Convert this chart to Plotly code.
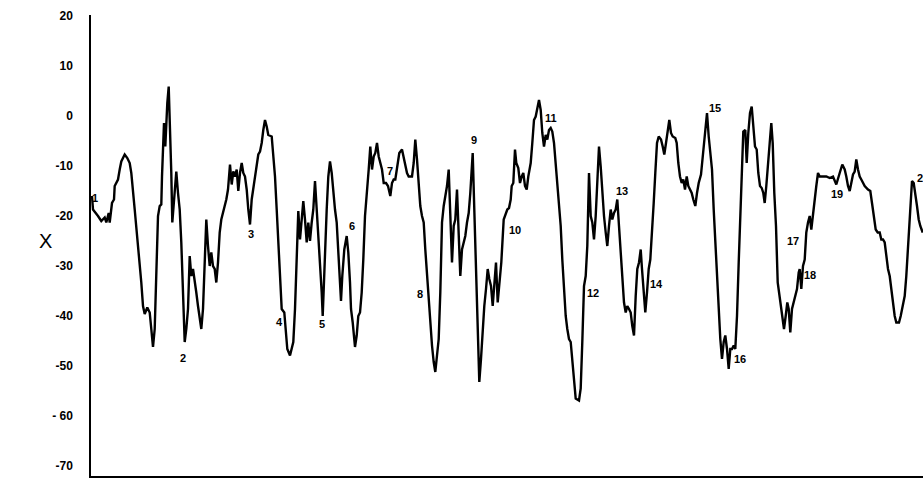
import plotly.graph_objects as go

# time (arbitrary units) and X values
t = [1, 2, 7, 10.3, 13.7, 15.3, 17.7, 18.7, 21, 23, 23.7, 27, 28.7, 30.3, 33.7, 36.3, 38.7, 40.3, 43.7, 47,
     50.3, 52, 53.7, 56.3, 58.7, 60.3, 62, 63.7, 65.3, 67, 68.7, 70.3, 71, 72, 73, 74.3, 75.3, 76.3, 77.7, 79,
     80.3, 81.3, 83, 84.3, 85.3, 87, 88.7, 90.3, 92, 93.7, 95.3, 97, 98.7, 100.3, 102, 103.7, 105.3, 107, 108.7, 110.3,
     112, 113.7, 115.3, 117, 118.7, 120.3, 122, 123.7, 125.3, 127, 128.7, 130.3, 132, 133.7, 135.3, 137,
     139, 140.7, 142.3, 144, 145.7, 147.3, 149, 150.7, 152.3, 154, 155.7, 157.3, 159, 160.7, 162.3, 164, 165.7, 167.3,
     169, 170.7, 172.3, 174, 175.7, 177.3, 180.7, 182.3, 184, 185.7, 187.3, 189, 190.7, 193.3, 194.7, 196.3, 199, 200.7,
     202.3, 204, 205.7, 207.3, 209, 210.7, 212.3, 214, 215.7, 217.3, 219, 220.7, 222.3, 224, 225.7, 227.3, 229, 230.7,
     231.7, 233, 234, 235.7, 237.3, 239, 240.7, 242.3, 244, 245.7, 247.3, 249, 250, 251.3, 253.3, 255.7, 257.3, 259,
     260, 261.7, 264, 265.7, 267.3, 269, 270.7, 272.3, 274,
     277.7, 279.3, 281, 282.7, 284.3, 286, 287.7, 289.3, 291, 292.7, 295, 297, 299.3, 301, 302.7, 304.3, 306, 308.3,
     311, 312.7, 314.3, 316, 317.7, 321, 322.7, 324.3, 326, 327.7, 329.3, 331, 332.7, 334.3, 336, 337.7, 339.3, 341,
     342.7, 344.3, 346, 347.7, 349.3, 351, 352.7, 354.3, 356, 357.7, 359.3, 361, 362.7, 364.3, 366, 367.7, 369.3, 371,
     372.7, 374.3, 376, 377.7, 379.3, 381.7, 383.3, 385, 386.7, 388.3, 390, 391.7, 393.3, 395, 396.7, 398.3, 400, 401.7,
     403.3, 405, 406.7, 408.3, 410.3, 412.7,
     414.7, 416.3, 418, 419.7, 420.7, 422.3, 424, 425.3, 427.3, 429, 430.7, 432.3, 434, 435.7, 437.3, 439.7, 441.3, 443,
     444.7, 446.3, 448, 449.7, 451.3, 453, 454.7, 456.3, 458, 459.7, 461.3, 463, 464.7, 466.3, 468, 469.7, 471.3, 473,
     474.7, 476.3, 478, 479.7, 481.3, 483, 484.7, 488, 489.7, 491.3, 493, 494.7, 496.3, 498, 499.7, 501.3, 503, 504.7,
     506.3, 508, 509.7, 511.3, 513, 514.7, 516.3, 518, 519.7, 521.3, 523, 524.7, 526.3, 528, 529.7, 531.3, 533, 534.7,
     536.3, 538, 539.7, 541.3, 543, 544.7, 546.3, 548, 549.7,
     551, 552.7, 554.3, 556, 557.7, 559.3, 561, 562.7, 564.3, 566, 567.7, 570, 571.7, 573.3, 575, 576.7, 578.3, 580,
     581.7, 584.3, 585.7, 587.3, 589, 590.7, 592.3, 594, 595.7, 597.3, 599, 600.7, 602.3, 604.3, 606, 607.7, 610, 611.7,
     613.3, 615, 616, 617.7, 619.3, 621, 622.7, 624.3, 626, 627.7, 629.3, 631, 632.7, 634.3, 636, 637.7, 639.3, 641,
     642.7, 644.3, 646, 647.7, 649.3, 651, 652.3, 654.3, 655.7, 657.3, 659, 660.7, 662.3, 664, 665.7, 667.3, 669, 670.7,
     672.3, 673.7, 675.3, 677, 678.7, 680.3, 681.7, 683.3, 685, 686.7,
     688, 689.7, 691.3, 693, 694.7, 696.3, 697.7, 699.3, 701, 702.7, 704.3, 706, 707.7, 708.7, 710.3, 712, 713.7, 715.3,
     717, 718.7, 720.3, 722, 723.7, 725.3, 727, 728.7, 732, 735.3, 738.7, 742, 745.3, 747, 748.7, 751.3, 753.7, 755.3,
     757, 758.7, 760.3, 762, 763.7, 765.3, 767, 768.7, 770.3, 772, 773.7, 777, 779.3, 781, 782.7, 784.7, 786.7, 788.7,
     790.3, 792, 793.7, 795.3, 797, 798.7, 800.3, 802, 803.7, 805.3, 808, 809.7, 812, 813.7, 815.3, 816.3, 817.7, 819.3,
     821, 822.7, 824.3, 826, 827.7, 829.3, 831.7]

x_vals = [-16.0, -18.7, -20.0, -21.0, -20.3, -21.3, -19.4, -21.3, -17.4, -16.7, -14.0, -12.7, -10.7, -9.1, -7.7, -8.4, -9.4, -11.4, -18.7, -25.3,
          -33.3, -38.0, -39.6, -38.3, -39.3, -42.6, -46.2, -42.6, -32.0, -20.0, -18.0, -17.7, -12.1, -5.4, -1.4, -6.1, -0.8, 2.6, 5.9, -1.4,
          -11.4, -21.3, -17.4, -14.7, -11.1, -15.4, -18.7, -25.3, -35.3, -45.2, -42.6, -38.6, -28.0, -32.0, -30.6, -32.6, -35.3, -38.0, -40.0, -42.6,
          -38.6, -29.3, -20.7, -26.0, -30.0, -27.3, -30.0, -30.6, -33.3, -29.3, -23.3, -20.7, -19.4, -18.0, -16.7, -14.7,
          -9.7, -13.7, -11.1, -12.1, -10.7, -15.0, -11.4, -9.4, -11.4, -12.1, -14.7, -18.7, -21.7, -16.7, -14.7, -12.7, -10.1, -7.7,
          -7.1, -5.4, -2.8, -0.8, -2.1, -3.8, -4.1, -7.4, -12.1, -18.7, -25.3, -33.3, -38.6, -39.3, -42.6, -46.6, -47.9, -46.6,
          -45.2, -38.6, -28.7, -19.0, -24.7, -20.0, -17.0, -20.7, -25.3, -21.3, -25.0, -21.3, -18.7, -13.0, -18.7, -22.0, -28.0, -35.3,
          -40.0, -32.0, -25.3, -18.7, -12.1, -9.1, -11.4, -15.4, -18.7, -21.3, -28.0, -34.6, -37.0, -32.0, -26.7, -24.0, -27.3, -33.3,
          -38.6, -41.3, -46.2, -43.9, -40.0, -39.3, -35.3, -28.7, -20.0,
          -10.7, -6.1, -10.7, -8.1, -7.4, -5.4, -8.1, -9.4, -10.7, -13.4, -13.4, -14.0, -16.0, -13.4, -12.7, -12.7, -10.1, -7.4,
          -6.7, -8.1, -9.4, -11.4, -12.1, -12.1, -9.4, -4.7, -8.7, -13.4, -18.0, -20.0, -21.3, -26.7, -32.0, -37.3, -42.6, -45.9,
          -49.2, -51.2, -47.9, -44.6, -35.3, -21.3, -18.0, -16.0, -14.0, -10.7, -20.0, -29.3, -22.0, -20.7, -14.7, -25.3, -32.0, -26.7,
          -25.3, -24.0, -21.3, -19.4, -15.4, -7.4, -18.7, -32.0, -45.2, -53.2, -48.6, -42.6, -38.0, -34.6, -30.6, -32.6, -34.0, -38.0,
          -33.3, -29.3, -37.3, -33.3, -29.3, -20.7,
          -19.4, -18.7, -18.4, -16.7, -14.0, -13.4, -6.7, -9.4, -10.4, -13.4, -12.1, -11.4, -14.0, -14.7, -12.1, -9.4, -5.4, -0.8,
          -0.1, 1.2, 3.2, 1.2, -3.4, -6.1, -3.8, -4.7, -2.8, -2.4, -3.1, -5.4, -9.4, -12.7, -17.4, -22.0, -28.7, -34.6,
          -40.0, -42.6, -44.6, -45.2, -49.2, -53.2, -56.5, -56.9, -54.5, -45.2, -34.0, -32.0, -26.0, -11.4, -20.0, -21.3, -24.7, -20.0,
          -12.1, -6.1, -10.1, -16.0, -20.0, -23.3, -26.0, -22.0, -18.7, -20.7, -19.4, -18.7, -16.7, -22.0, -26.7, -32.0, -37.3, -39.3,
          -38.0, -38.6, -39.3, -42.0, -43.9, -36.0, -30.6, -29.3, -26.7,
          -30.6, -35.3, -39.3, -35.3, -30.6, -28.7, -24.0, -17.4, -11.4, -5.4, -4.1, -4.7, -6.1, -7.7, -5.4, -3.4, -0.8, -3.4,
          -4.1, -4.4, -5.4, -9.4, -12.1, -13.4, -12.7, -14.7, -12.1, -14.0, -14.7, -15.4, -16.7, -18.0, -15.4, -13.4, -11.7, -8.1,
          -4.7, -1.4, 0.6, -4.1, -8.1, -10.7, -18.7, -25.3, -32.0, -38.6, -44.6, -48.6, -45.2, -43.9, -46.6, -50.6, -46.6, -46.6,
          -45.9, -46.6, -40.0, -29.3, -18.7, -8.7, -3.1, -2.8, -9.4, -3.4, 0.6, 1.9, -1.4, -6.1, -6.7, -11.4, -14.0, -14.4,
          -15.4, -17.4, -14.0, -8.7, -5.4, -1.4, -5.4, -15.4, -22.0, -33.3,
          -35.3, -38.0, -40.0, -42.6, -40.0, -37.3, -38.6, -43.3, -38.6, -37.3, -36.0, -34.6, -31.3, -30.6, -34.6, -30.0, -28.7, -23.3,
          -21.3, -20.0, -22.7, -19.4, -17.4, -14.0, -11.4, -12.1, -12.1, -12.1, -12.4, -12.1, -13.7, -12.7, -11.4, -9.7, -10.7, -12.1,
          -14.0, -15.0, -13.4, -11.7, -11.1, -8.7, -10.7, -12.1, -12.7, -13.4, -14.0, -14.7, -15.0, -17.4, -20.0, -22.7, -23.3, -23.3,
          -24.7, -24.7, -25.3, -28.0, -30.6, -32.0, -34.6, -37.3, -40.0, -41.3, -41.3, -40.0, -38.0, -36.0, -32.0, -28.7, -22.0, -18.7,
          -13.0, -13.4, -15.4, -18.0, -20.7, -22.0, -23.3]

# numbered event labels
label_text = ["1", "2", "3", "4", "5", "6", "7", "8", "9", "10",
              "11", "12", "13", "14", "15", "16", "17", "18", "19", "20"]
label_t = [4, 92, 160, 188, 231, 261, 299, 329, 383, 424,
           460, 502, 531, 565, 624, 649, 702, 719, 746, 824]
label_v = [-16.4, -48.3, -23.6, -41.1, -41.5, -22.0, -10.9, -35.5, -4.7, -22.8,
           -0.3, -35.4, -15.0, -33.6, 1.7, -48.5, -25.0, -31.8, -15.6, -12.3]

y_ticks = [20, 10, 0, -10, -20, -30, -40, -50, -60, -70]
y_ticktext = ["20", "10", "0", "-10", "-20", "-30", "-40", "-50", "- 60", "-70"]

fig = go.Figure()
fig.add_trace(go.Scatter(x=t, y=x_vals, mode="lines",
                         line=dict(color="black", width=2.4), hoverinfo="skip",
                         showlegend=False))

annotations = []
for txt, tx, ty in zip(label_text, label_t, label_v):
    annotations.append(dict(x=tx, y=ty, xref="x", yref="y", text=txt, showarrow=False,
                            xanchor="center" if txt != "20" else "left",
                            font=dict(family="Liberation Sans, Arial, sans-serif", size=11,
                                      color="black", weight="bold")))
annotations.append(dict(x=-0.065, y=-25, xref="paper", yref="y", text="X", showarrow=False,
                        font=dict(family="Liberation Sans, Arial, sans-serif", size=20, color="black")))

fig.update_layout(
    width=923, height=480,
    margin=dict(l=91, r=0, t=15, b=4),
    paper_bgcolor="white", plot_bgcolor="white",
    annotations=annotations,
    xaxis=dict(range=[0, 832], showgrid=False, zeroline=False, showticklabels=False,
               showline=True, linecolor="black", linewidth=1.5, ticks=""),
    yaxis=dict(range=[-72, 20.2], showgrid=False, zeroline=False,
               tickvals=y_ticks, ticktext=y_ticktext, ticks="",
               ticklabelstandoff=14,
               tickfont=dict(family="Liberation Sans, Arial, sans-serif", size=12,
                             color="black", weight="bold"),
               showline=True, linecolor="black", linewidth=1.5),
)

fig.write_html("out.html", config={"displayModeBar": False},
               post_script="document.body.style.margin='0';document.body.style.overflow='hidden';")
